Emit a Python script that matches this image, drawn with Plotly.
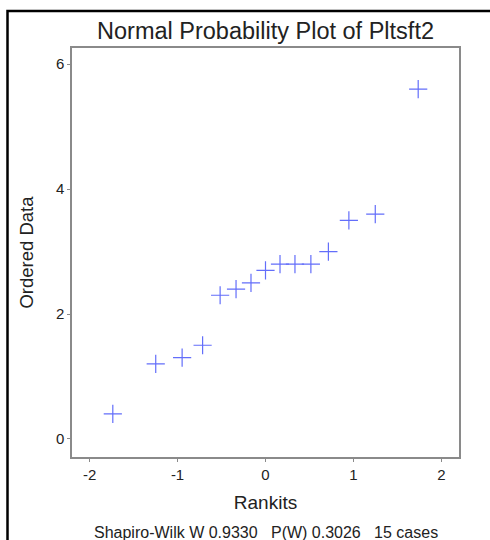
import plotly.graph_objects as go

rankits = [-1.736, -1.248, -0.948, -0.715, -0.516, -0.335, -0.165, 0.0,
           0.165, 0.335, 0.516, 0.715, 0.948, 1.248, 1.736]
ordered_data = [0.4, 1.2, 1.3, 1.5, 2.3, 2.4, 2.5, 2.7,
                2.8, 2.8, 2.8, 3.0, 3.5, 3.6, 5.6]
x_ticks = [-2, -1, 0, 1, 2]
x_tick_labels = ["-2", "-1", "0", "1", "2"]
y_ticks = [0, 2, 4, 6]
y_tick_labels = ["0", "2", "4", "6"]
title = "Normal Probability Plot of Pltsft2"
footer = "Shapiro-Wilk W 0.9330   P(W) 0.3026   15 cases"

FONT = "Liberation Sans, Arial, sans-serif"
W, H = 490, 540
L, R, T, B = 72, 31, 48, 83
PW, PH = W - L - R, H - T - B


def px_to_paper_x(px):
    return (px - L) / PW


def px_to_paper_y(py):
    return (H - B - py) / PH


fig = go.Figure()
fig.add_trace(go.Scatter(
    x=rankits, y=ordered_data, mode="markers",
    marker=dict(symbol="cross-thin-open", size=13,
                line=dict(color="rgb(85,85,255)", width=1.2)),
    showlegend=False, hoverinfo="x+y"))

axis_common = dict(
    showgrid=False, zeroline=False, showline=True, mirror=True,
    linecolor="#8a8a8a", linewidth=1.5,
    ticks="outside", ticklen=3, tickcolor="#8a8a8a", tickwidth=1,
    tickfont=dict(family=FONT, size=15, color="#222"),
)

fig.update_layout(
    width=W, height=H,
    margin=dict(l=L, r=R, t=T, b=B),
    paper_bgcolor="white", plot_bgcolor="white",
    font=dict(family=FONT, color="#222"),
    title=dict(text=title, x=0.5, xanchor="center", xref="paper",
               y=1 - 31 / H, yanchor="middle",
               font=dict(family=FONT, size=23.5, color="#222")),
    xaxis=dict(range=[-2.2, 2.2], tickvals=x_ticks, ticktext=x_tick_labels,
               title=dict(text="Rankits", font=dict(family=FONT, size=19, color="#222"),
                          standoff=14),
               **axis_common),
    yaxis=dict(range=[-0.29, 6.26], tickvals=y_ticks, ticktext=y_tick_labels,
               title=dict(text="Ordered Data", font=dict(family=FONT, size=18.5, color="#222"),
                          standoff=17),
               **axis_common),
    annotations=[dict(text=footer, xref="paper", yref="paper",
                      x=0.5, y=px_to_paper_y(532),
                      xanchor="center", yanchor="middle", showarrow=False,
                      font=dict(family=FONT, size=16, color="#222"))],
    shapes=[dict(type="rect", xref="paper", yref="paper",
                 x0=px_to_paper_x(7.5), x1=px_to_paper_x(510),
                 y0=px_to_paper_y(560), y1=px_to_paper_y(11),
                 line=dict(color="black", width=2.5), layer="below")],
)

fig.write_html("out.html", config={"displayModeBar": False},
               post_script="document.body.style.margin='0';")
